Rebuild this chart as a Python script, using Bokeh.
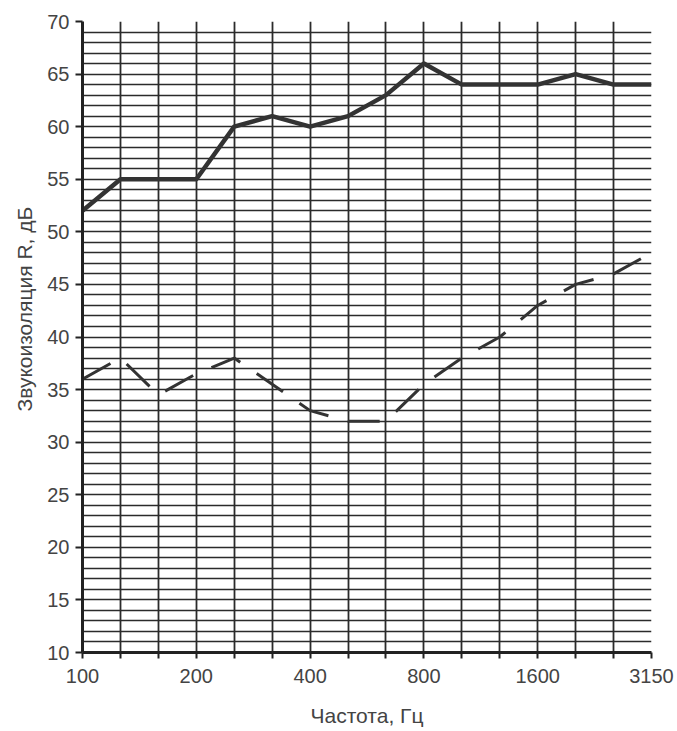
from bokeh.plotting import figure
from bokeh.models import FixedTicker, Range1d, Title
from bokeh.embed import file_html
from bokeh.resources import INLINE

# third-octave bands, Hz
bands = [100, 125, 160, 200, 250, 315, 400, 500, 630, 800, 1000, 1250, 1600, 2000, 2500, 3150]
labeled_bands = [100, 200, 400, 800, 1600, 3150]
# sound insulation R, dB
r_solid = [52, 55, 55, 55, 60, 61, 60, 61, 63, 66, 64, 64, 64, 65, 64, 64]
r_dashed = [36, 38, 34.5, 36.5, 38, 35.5, 33, 32, 32, 35.5, 38, 40, 43, 45, 46, 48]
y_ticks = list(range(10, 75, 5))
y_grid = list(range(11, 70))

x_pos = list(range(len(bands)))

FONT = "Liberation Sans"
INK = "#2b2b2b"
TXT = "#444444"

p = figure(width=676, height=730, output_backend="svg", toolbar_location=None,
           x_range=Range1d(x_pos[0], x_pos[-1]), y_range=Range1d(y_ticks[0], y_ticks[-1]),
           min_border_left=82, min_border_right=25, min_border_top=21, min_border_bottom=78)
p.outline_line_color = None
p.background_fill_color = "white"
p.border_fill_color = "white"

# grid
p.xgrid.ticker = FixedTicker(ticks=x_pos[1:-1])
p.ygrid.ticker = FixedTicker(ticks=y_grid)
p.xgrid.grid_line_color = INK
p.xgrid.grid_line_width = 1.8
p.ygrid.grid_line_color = INK
p.ygrid.grid_line_width = 1.3
p.xgrid.grid_line_alpha = 1
p.ygrid.grid_line_alpha = 1

# data lines
p.line(x_pos, r_solid, line_color="#333333", line_width=4.5, line_join="round")
p.line(x_pos, r_dashed, line_color="#333333", line_width=3, line_dash="32 20")

# axes
p.xaxis.ticker = FixedTicker(ticks=x_pos)
p.xaxis.major_label_overrides = {i: (str(b) if b in labeled_bands else "") for i, b in enumerate(bands)}
p.yaxis.ticker = FixedTicker(ticks=y_ticks)
for ax in (p.xaxis[0], p.yaxis[0]):
    ax.axis_line_color = "#222222"
    ax.axis_line_width = 3
    ax.major_tick_line_color = "#222222"
    ax.major_tick_line_width = 2
    ax.major_tick_in = 0
    ax.minor_tick_line_color = None
    ax.major_label_text_font = FONT
    ax.major_label_text_font_size = "20px"
    ax.major_label_text_color = TXT
    ax.axis_label_text_font = FONT
    ax.axis_label_text_font_size = "21px"
    ax.axis_label_text_font_style = "normal"
    ax.axis_label_text_color = TXT

p.xaxis.major_tick_out = 6
p.xaxis.major_label_standoff = 10
p.xaxis.axis_label = "Частота, Гц"
p.xaxis.axis_label_standoff = 18

p.yaxis.major_tick_out = 7
p.yaxis.major_label_standoff = 6

# y-axis title, placed slightly above the axis centre as in the original
p.add_layout(Title(text="Звукоизоляция R, дБ", align="left", offset=241,
                   vertical_align="top",
                   text_font=FONT, text_font_size="21px", text_font_style="normal",
                   text_color=TXT, standoff=13), "left")

open("out.html", "w").write(file_html(p, INLINE))
